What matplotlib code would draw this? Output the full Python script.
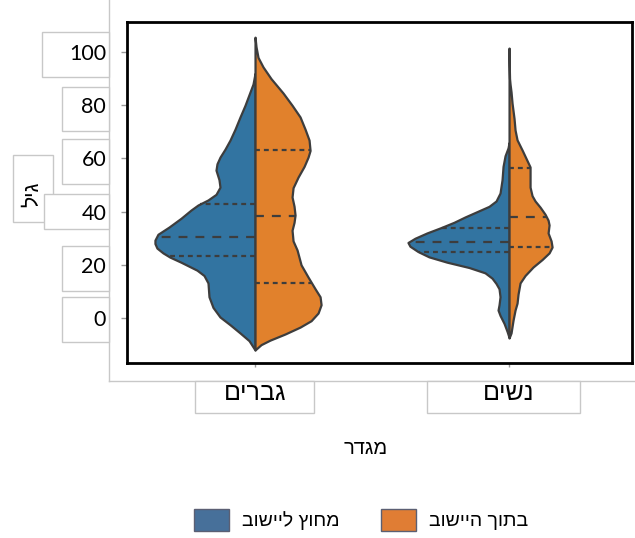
import numpy as np
import matplotlib.pyplot as plt
from matplotlib.patches import Rectangle, Patch
from matplotlib.lines import Line2D

# --- data -------------------------------------------------------------
groups = ["גברים", "נשים"]
hue_labels = ["מחוץ ליישוב", "בתוך היישוב"]

# kernel density profiles (age, relative density) per group and half
men_out_age = [-12, -8.5, -5.6, -2.5, 0.4, 4, 8, 13.2, 16, 18, 21, 22.9, 24.5, 26.3, 28, 29.3, 31.5, 34.2,
               37.5, 40.6, 42.5, 44.4, 46.5, 49.2, 52, 55.6, 58, 60.5, 63.5, 66.9, 71, 75.6, 80, 84, 88, 92]
men_out_den = [0, 0.06, 0.15, 0.25, 0.35, 0.42, 0.46, 0.47, 0.51, 0.58, 0.74, 0.85, 0.92, 0.98, 1.00, 1.00,
               0.97, 0.86, 0.74, 0.64, 0.57, 0.47, 0.39, 0.35, 0.36, 0.39, 0.38, 0.35, 0.30, 0.25, 0.20,
               0.15, 0.10, 0.06, 0.02, 0]

men_in_age = [-12, -10, -8.3, -6, -3.4, -1, 1.9, 5, 8, 11, 15.4, 20, 25.6, 29, 33, 36, 38.7, 42, 45.5, 49,
              53, 57, 60.5, 63, 66.9, 71, 75.6, 80, 84.6, 90, 94.4, 98, 102, 105.6]
men_in_den = [0, 0.06, 0.15, 0.30, 0.45, 0.56, 0.63, 0.66, 0.65, 0.60, 0.53, 0.46, 0.42, 0.38, 0.37, 0.39,
              0.40, 0.39, 0.37, 0.38, 0.43, 0.49, 0.53, 0.55, 0.54, 0.50, 0.45, 0.37, 0.28, 0.16, 0.08,
              0.03, 0.01, 0]

women_out_age = [-7.3, -5, -2, 1, 3, 5, 8, 11, 13, 15, 17, 19, 21, 23, 25, 27, 28.4, 30, 32, 34,
                 36, 38, 40, 42, 44, 47, 52, 57, 61, 64, 66]
women_out_den = [0, 0.02, 0.05, 0.09, 0.11, 0.10, 0.09, 0.10, 0.13, 0.17, 0.24, 0.40, 0.62, 0.80, 0.91, 0.99,
                 1.01, 0.94, 0.82, 0.68, 0.55, 0.44, 0.32, 0.20, 0.13, 0.09, 0.07, 0.06, 0.04, 0.01, 0]

women_in_age = [-7.5, -5.6, -0.8, 3, 5.6, 9, 13.2, 16, 19.2, 22, 24.5, 26.7, 29, 32, 35, 36.8, 39,
                41.7, 44, 46, 49.2, 53, 56.8, 60, 63.2, 67, 70.7, 75, 80.8, 85, 88, 90, 95, 101.5]
women_in_den = [0, 0.02, 0.04, 0.06, 0.08, 0.09, 0.11, 0.16, 0.24, 0.33, 0.40, 0.43, 0.42, 0.39, 0.40, 0.39, 0.36,
                0.31, 0.26, 0.23, 0.21, 0.21, 0.21, 0.17, 0.13, 0.08, 0.06, 0.05, 0.03, 0.02, 0.01, 0.005, 0.002, 0]

# quartiles (q1, median, q3)
men_out_q = [23.3, 30.3, 42.8]
men_in_q = [13.3, 38.4, 63.2]
women_out_q = [24.8, 28.6, 33.8]
women_in_q = [26.7, 38.0, 56.4]

yticks = [0, 20, 40, 60, 80, 100]

HEB = ["Liberation Sans", "DejaVu Sans"]


def rtl(s):
    # matplotlib lays glyphs out left to right
    return s[::-1]


W, H = 635, 538
fig = plt.figure(figsize=(W / 100, H / 100), dpi=100)
ax = fig.add_axes([127 / W, 1 - 363 / H, (632 - 127) / W, (363 - 22) / H])

blue = "#3274a1"
orange = "#e1812c"
edge = "#3d3d3d"
width_scale = 0.394

halves = [
    (0, men_out_age, men_out_den, men_out_q, -1, blue),
    (0, men_in_age, men_in_den, men_in_q, 1, orange),
    (1, women_out_age, women_out_den, women_out_q, -1, blue),
    (1, women_in_age, women_in_den, women_in_q, 1, orange),
]

for pos, age, den, q, side, color in halves:
    age = np.array(age)
    half = np.array(den) * width_scale * side
    ax.fill_betweenx(age, pos, pos + half, facecolor=color, edgecolor=edge,
                     linewidth=1.6, joinstyle="round", zorder=2)
    for i, val in enumerate(q):
        w = np.interp(val, age, half)
        if i == 1:
            ls = (0, (4, 3.6))
        else:
            ls = (0, (2.2, 1.8))
        ax.plot([pos, pos + w], [val, val], color=edge, lw=1.6, linestyle=ls, zorder=3)

ax.set_xlim(-0.504, 1.484)
ax.set_ylim(-16.9, 111.3)
ax.set_yticks(yticks)
ax.set_yticklabels([str(v) for v in yticks], fontfamily="Lato", fontsize=15.5)
ax.set_xticks([0, 1])
ax.set_xticklabels([rtl(g) for g in groups], fontfamily=HEB, fontsize=18)
ax.tick_params(axis="y", length=4, width=1, color="#999999", pad=11)
ax.tick_params(axis="x", length=3, width=1, color="#999999", pad=10)
for s in ax.spines.values():
    s.set_linewidth(2)
    s.set_color("black")


# light outlines behind the labels
def fig_rect(x0, y0, x1, y1):
    r = Rectangle((x0 / W, 1 - y1 / H), (x1 - x0) / W, (y1 - y0) / H, transform=fig.transFigure,
                  facecolor="white", edgecolor="#c8c8c8", linewidth=1, zorder=-1)
    fig.add_artist(r)


fig.add_artist(Line2D([109 / W, 109 / W], [1, 1 - 381 / H], transform=fig.transFigure,
                      color="#c8c8c8", lw=1, zorder=-2))
fig.add_artist(Line2D([109 / W, 1], [1 - 381 / H, 1 - 381 / H], transform=fig.transFigure,
                      color="#c8c8c8", lw=1, zorder=-2))
for box in [(42, 32, 109, 77), (62, 87, 109, 131), (62, 139, 109, 184), (13, 155, 53, 222),
            (44, 194, 109, 229), (62, 246, 109, 291), (62, 297, 109, 342),
            (195, 381, 314, 413), (427, 381, 580, 413)]:
    fig_rect(*box)

fig.text(33 / W, 1 - 194 / H, rtl("גיל"), rotation=90, ha="center", va="center",
         fontfamily=HEB, fontsize=15)
fig.text(366 / W, 1 - 448 / H, rtl("מגדר"), ha="center", va="center",
         fontfamily=HEB, fontsize=14.5)

handles = [Patch(facecolor="#47709a", edgecolor="#5b5f73", linewidth=1),
           Patch(facecolor="#e07d34", edgecolor="#5b5f73", linewidth=1)]
fig.legend(handles, [rtl(h) for h in hue_labels], loc="center", bbox_to_anchor=(361 / W, 1 - 520 / H),
           ncol=2, frameon=False, handlelength=1.8, handleheight=1.34, handletextpad=0.67,
           columnspacing=2.1, prop={"family": HEB, "size": 14})

fig.savefig("out.png", dpi=100)
